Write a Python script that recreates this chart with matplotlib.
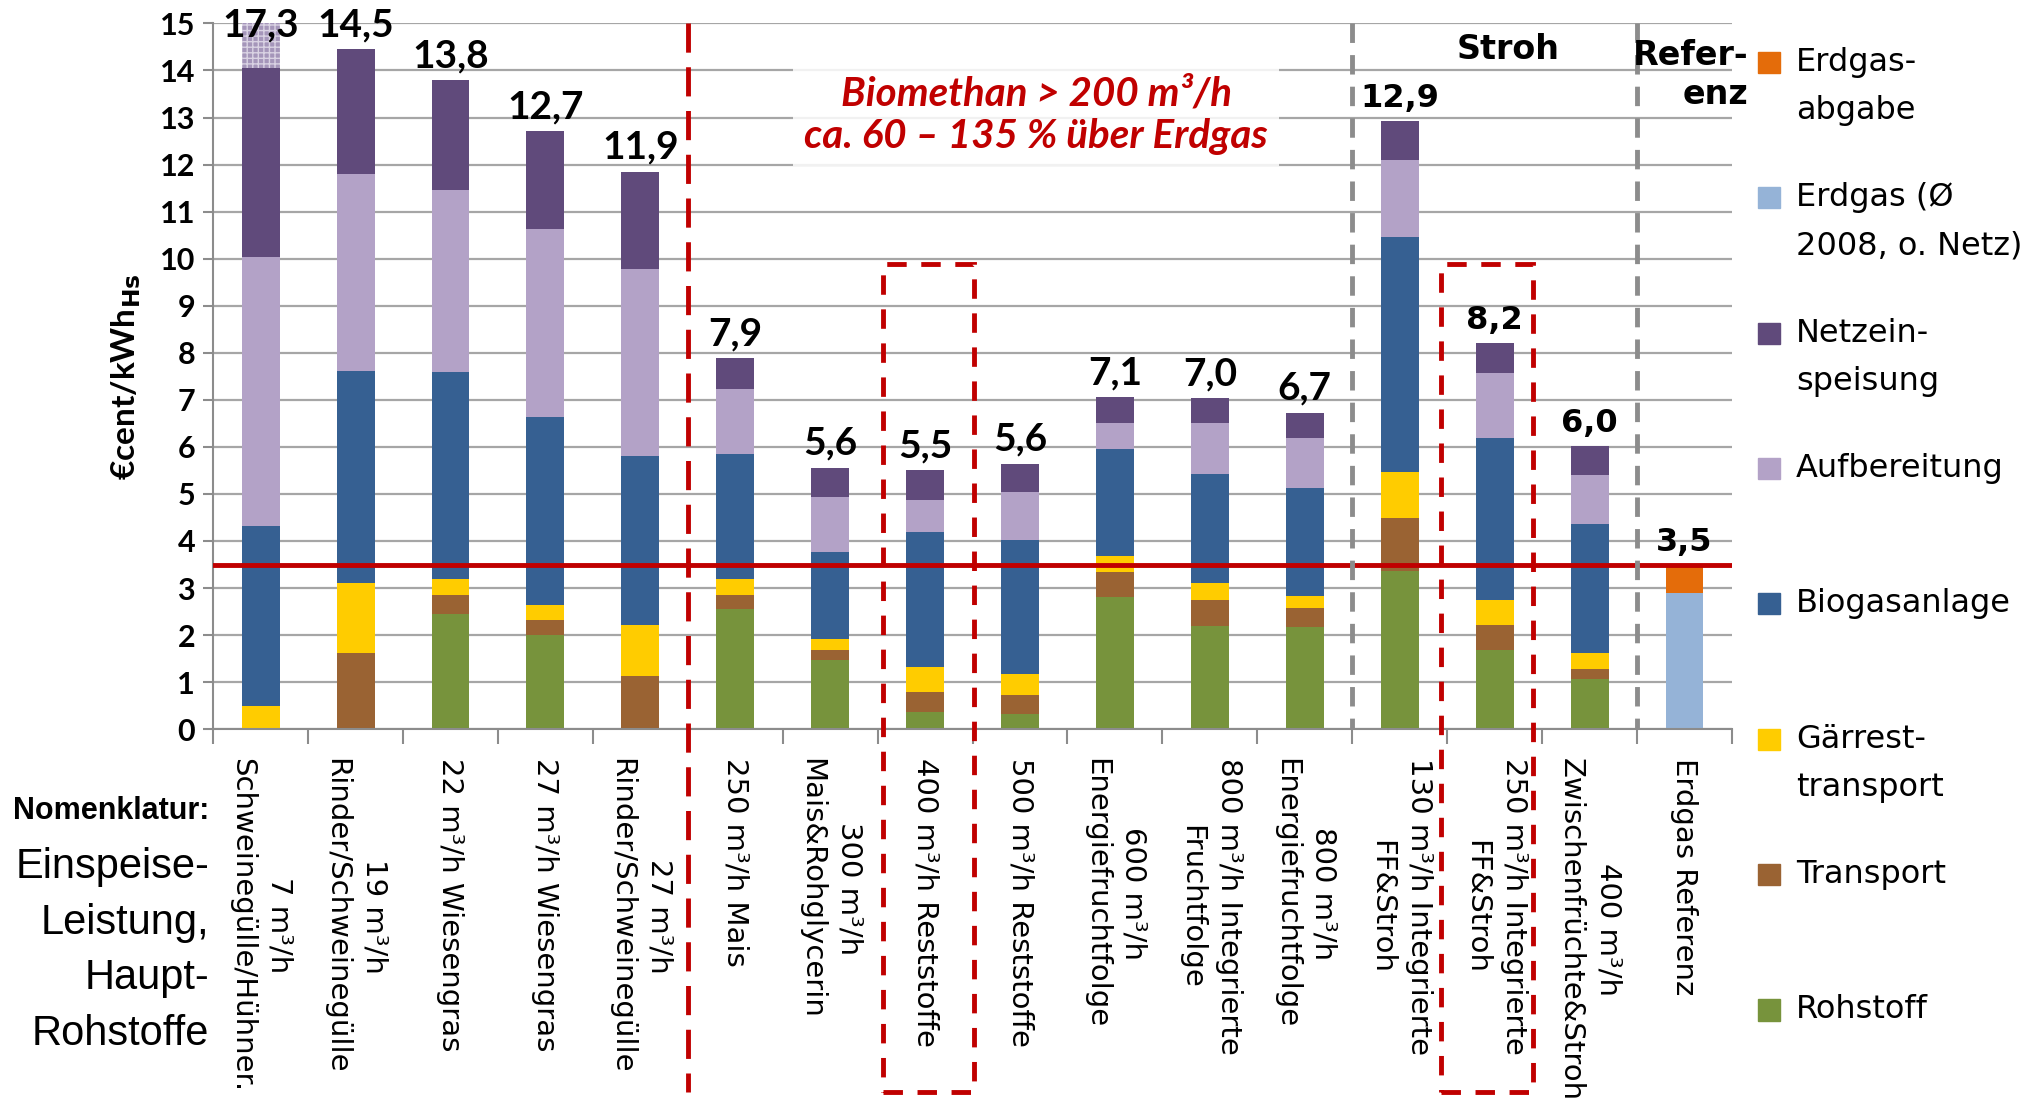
import matplotlib.pyplot as plt
import numpy as np
from matplotlib.patches import Rectangle

# Kategorien: Einspeiseleistung, Hauptrohstoffe (erste Zeile steht rechts)
kategorien = [
    "7 m³/h\nSchweinegülle/Hühner.",
    "19 m³/h\nRinder/Schweinegülle",
    "22 m³/h Wiesengras",
    "27 m³/h Wiesengras",
    "27 m³/h\nRinder/Schweinegülle",
    "250 m³/h Mais",
    "300 m³/h\nMais&Rohglycerin",
    "400 m³/h Reststoffe",
    "500 m³/h Reststoffe",
    "600 m³/h\nEnergiefruchtfolge",
    "800 m³/h Integrierte\nFruchtfolge",
    "800 m³/h\nEnergiefruchtfolge",
    "130 m³/h Integrierte\nFF&Stroh",
    "250 m³/h Integrierte\nFF&Stroh",
    "400 m³/h\nZwischenfrüchte&Stroh",
    "Erdgas Referenz",
]

# Kostenanteile in €cent/kWh_Hs
rohstoff     = [0, 0, 2.44, 2.00, 0, 2.56, 1.47, 0.36, 0.33, 2.80, 2.19, 2.17, 3.37, 1.68, 1.07, 0]
transport    = [0, 1.61, 0.42, 0.33, 1.14, 0.30, 0.22, 0.44, 0.39, 0.55, 0.55, 0.41, 1.11, 0.54, 0.20, 0]
gaerrest     = [0.50, 1.50, 0.34, 0.31, 1.08, 0.34, 0.23, 0.53, 0.45, 0.34, 0.37, 0.26, 0.98, 0.52, 0.35, 0]
biogas       = [3.82, 4.51, 4.40, 4.00, 3.58, 2.64, 1.84, 2.87, 2.86, 2.27, 2.32, 2.28, 5.01, 3.45, 2.75, 0]
aufbereitung = [5.72, 4.19, 3.87, 4.00, 3.99, 1.38, 1.18, 0.68, 1.02, 0.54, 1.07, 1.06, 1.63, 1.37, 1.03, 0]
netz         = [4.01, 2.64, 2.32, 2.07, 2.06, 0.66, 0.62, 0.62, 0.59, 0.55, 0.53, 0.55, 0.83, 0.65, 0.61, 0]
netz_gekappt = [3.25, 0, 0, 0, 0, 0, 0, 0, 0, 0, 0, 0, 0, 0, 0, 0]   # über 15 abgeschnitten
erdgas       = [0, 0, 0, 0, 0, 0, 0, 0, 0, 0, 0, 0, 0, 0, 0, 2.90]
abgabe       = [0, 0, 0, 0, 0, 0, 0, 0, 0, 0, 0, 0, 0, 0, 0, 0.59]
gesamt       = [17.3, 14.5, 13.8, 12.7, 11.9, 7.9, 5.6, 5.5, 5.6, 7.1, 7.0, 6.7, 12.9, 8.2, 6.0, 3.5]
erdgas_preis = 3.5

plt.rcParams['font.family'] = 'DejaVu Sans'
plt.rcParams['hatch.linewidth'] = 1.0

rot = '#C00000'
grau = '#8C8C8C'

fig = plt.figure(figsize=(20.4, 11.15), dpi=100)
ax = fig.add_axes([0.1045, 0.346, 0.7445, 0.633])

x = np.arange(len(kategorien))
breite = 0.4
y_max = 15

serien = [
    ('Rohstoff', rohstoff, '#77933C'),
    ('Transport', transport, '#9A6333'),
    ('Gärrest-\ntransport', gaerrest, '#FFCC00'),
    ('Biogasanlage', biogas, '#366092'),
    ('Aufbereitung', aufbereitung, '#B3A2C7'),
    ('Netzein-\nspeisung', netz, '#604A7B'),
    ('Erdgas (Ø\n2008, o. Netz)', erdgas, '#95B3D7'),
    ('Erdgas-\nabgabe', abgabe, '#E46C0A'),
]

unten = np.zeros(len(x))
for name, werte, farbe in serien:
    ax.bar(x, werte, breite, bottom=unten, color=farbe, linewidth=0, zorder=2)
    unten += np.array(werte)
    if name.startswith('Netz'):
        ax.bar(x, netz_gekappt, breite, bottom=unten, color='#A596BA',
               edgecolor='#D9D2E3', hatch='+++', linewidth=0, zorder=2)
        unten += np.array(netz_gekappt)

# Summenwerte über den Säulen
for i, (xi, oben, wert) in enumerate(zip(x, unten, gesamt)):
    y = min(oben, y_max - 0.55)
    if i < 12:
        kw = dict(family='Lato', fontsize=28)
    else:
        kw = dict(family='DejaVu Sans', fontsize=23)
    ax.annotate(f'{wert:.1f}'.replace('.', ','), (xi, y), xytext=(0, 5),
                textcoords='offset points', ha='center', va='bottom',
                fontweight='bold', zorder=5, **kw)

# Erdgas-Referenzlinie
ax.axhline(erdgas_preis, color=rot, lw=3.5, zorder=3)

ax.set_xlim(-0.5, len(x) - 0.5)
ax.set_ylim(0, y_max)
ax.set_yticks(range(0, y_max + 1))
ax.yaxis.grid(True, color='#A6A6A6', lw=1.6)
ax.set_axisbelow(True)

ax.set_xticks(x)
ax.set_xticklabels(kategorien, rotation=-90, ha='center', va='top',
                   multialignment='center', fontsize=21, linespacing=1.45)
ax.set_xticks(np.arange(-0.5, len(x)), minor=True)
ax.tick_params(axis='x', which='major', length=0, pad=21)
ax.tick_params(axis='x', which='minor', length=11, color=grau, width=1.5)
ax.tick_params(axis='y', length=7, color=grau, width=1.5, pad=6)
for lab in ax.get_yticklabels():
    lab.set_family('Lato')
    lab.set_fontweight('bold')
    lab.set_fontsize(22)

for s in ['top', 'right']:
    ax.spines[s].set_visible(False)
for s in ['left', 'bottom']:
    ax.spines[s].set_color(grau)
    ax.spines[s].set_linewidth(1.5)

ax.set_ylabel('€cent/kWh$_{\\mathbf{Hs}}$', fontsize=24, fontweight='bold',
              family='Lato', labelpad=12)

# Trennlinien
ax.plot([4.5, 4.5], [y_max, -7.7], color=rot, lw=3.5, ls=(0, (6, 3)),
        clip_on=False, zorder=4)
for xg in [11.5, 14.5]:
    ax.plot([xg, xg], [y_max, 0], color=grau, lw=3.5, ls=(0, (4, 2.5)),
            clip_on=False, zorder=4)

# hervorgehobene Varianten
for x0, x1 in [(6.56, 7.52), (12.44, 13.4)]:
    ax.add_patch(Rectangle((x0, -7.7), x1 - x0, 9.89 + 7.7, fill=False,
                           edgecolor=rot, lw=3.5, ls=(0, (4, 3)),
                           clip_on=False, zorder=4))

ax.text(8.17, 13.05, 'Biomethan > 200 m³/h\nca. 60 – 135 % über Erdgas',
        color=rot, family='Lato', fontweight='bold', style='italic',
        fontsize=29, ha='center', va='center', linespacing=1.2, zorder=3,
        bbox=dict(facecolor='white', edgecolor='none', alpha=0.85, pad=8))
ax.text(13.14, 14.45, 'Stroh', fontsize=24, fontweight='bold',
        ha='center', va='center', zorder=5)
ax.text(15.06, 13.9, 'Refer-\nenz', fontsize=24, fontweight='bold',
        ha='center', va='center', multialignment='right', linespacing=1.25,
        zorder=5)

# Nomenklatur links unten
fig.text(0.1026, 0.273, 'Nomenklatur:', ha='right', va='center',
         family='Liberation Sans', fontweight='bold', fontsize=22)
fig.text(0.1026, 0.1475, 'Einspeise-\nLeistung,\nHaupt-\nRohstoffe',
         ha='right', va='center', multialignment='right',
         family='Liberation Sans', fontsize=30, linespacing=1.5)

# Legende rechts, von oben nach unten
y_leg = 0.944
for name, werte, farbe in serien[::-1]:
    fig.add_artist(Rectangle((0.862, y_leg - 0.0095), 0.0105, 0.019,
                             color=farbe, transform=fig.transFigure))
    for k, zeile in enumerate(name.split('\n')):
        fig.text(0.8805, y_leg - k * 0.0434, zeile, fontsize=23,
                 ha='left', va='center')
    y_leg -= 0.1214

fig.savefig('out.png', dpi=100)
